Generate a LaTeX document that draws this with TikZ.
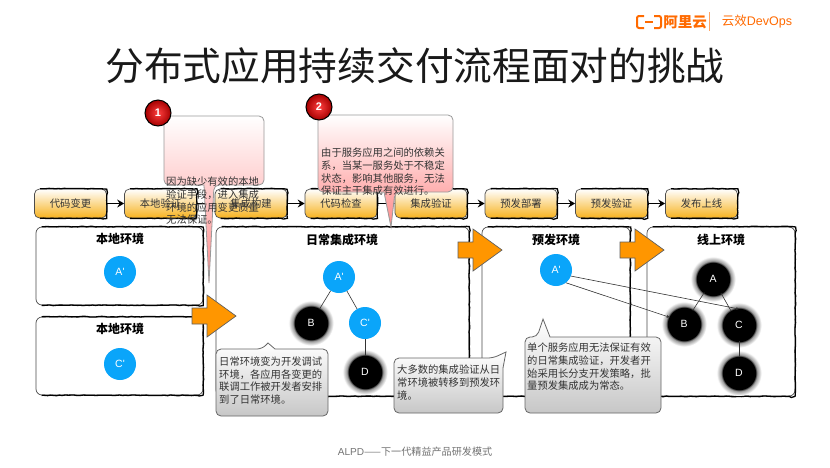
\documentclass[tikz,border=0pt]{standalone}
\usepackage{fontspec}
\setmainfont{Noto Sans CJK SC}
\newfontfamily\latinfont{Liberation Sans}
\usetikzlibrary{arrows.meta,positioning,calc,decorations.pathmorphing}
\definecolor{acc}{HTML}{FF6A00}
\definecolor{gr}{HTML}{333333}
\definecolor{stagebot}{HTML}{F7B21E}
\definecolor{blue}{HTML}{0AA5FA}
\definecolor{orangearrow}{HTML}{FF9600}
\definecolor{redtail}{HTML}{FF8A8A}
\newcommand{\smalltxt}{\fontsize{10.3}{12.6}\selectfont}
\pgfdeclareradialshading{svcglow}{\pgfpointorigin}{color(0bp)=(black); color(18.4bp)=(black); color(19bp)=(black!45); color(24.5bp)=(white); color(50bp)=(white)}
\tikzset{
  sketchline/.style={draw=black,line width=1.3pt,decorate,decoration={random steps,segment length=3pt,amplitude=.35pt}},
  stagebox/.style={rectangle,rounded corners=5pt,draw=black!70,line width=.7pt,top color=white,bottom color=stagebot,
    minimum width=72pt,minimum height=29pt,inner sep=0pt,text=gr,font=\smalltxt},
  envbox/.style={draw=black!70,line width=.7pt,fill=white,rounded corners=6pt},
  envtitle/.style={font=\fontsize{12}{14}\selectfont\bfseries},
  svc/.style={circle,inner sep=0pt,text=white,font=\latinfont\fontsize{10.5}{12}\selectfont},
  svcnew/.style={svc,minimum size=32pt,fill=blue},
  svcold/.style={svc,minimum size=46pt,outer sep=-7pt,shading=svcglow},
  flow/.style={-{Stealth[length=7pt,width=8pt,inset=2.5pt]},line width=1.1pt},
  link/.style={line width=.6pt,draw=gr},
  thinarrow/.style={-{Stealth[length=3pt,width=3pt]},line width=.6pt,draw=gr},
  bigarrow/.style={draw=gray!75!black,line width=.7pt,fill=orangearrow},
  tipred/.style={draw=gray!80,line width=.8pt,top color=white,bottom color=redtail,rounded corners=5pt},
  tipgray/.style={draw=gray!80!black,line width=.8pt,top color=white,bottom color=black!22,rounded corners=5pt},
  tiptext/.style={anchor=north west,inner sep=0pt,align=left,text=gr,font=\smalltxt},
  badge/.style={circle,draw=black,line width=1pt,minimum size=26pt,inner sep=0pt,
    inner color=red!75!white,outer color=red!65!black,text=white,font=\latinfont\bfseries\fontsize{11}{12}\selectfont},
}
\begin{document}
\begin{tikzpicture}[x=1pt,y=-1pt]
  \useasboundingbox (0,0) rectangle (830,467);
  \fill[white] (0,0) rectangle (830,467);
  % logo
  \draw[acc,line width=2pt,rounded corners=2pt] (644,16) -- (637,16) -- (637,28) -- (644,28);
  \draw[acc,line width=2pt,rounded corners=2pt] (654,16) -- (661,16) -- (661,28) -- (654,28);
  \draw[acc,line width=1.4pt] (645,22) -- (653,22);
  \node[acc,font=\fontsize{14.5}{16}\selectfont\bfseries] (aliyun) at (685,22) {阿里云};
  \draw[acc!60,line width=.6pt] (709,12) -- (709,31);
  \node[acc,font=\fontsize{12.5}{14}\selectfont] (devops) at (757,22) {云效\latinfont DevOps};
  % title
  \node[font=\fontsize{38.7}{44}\selectfont,text=black!90] (title) at (415,66) {分布式应用持续交付流程面对的挑战};
  % environments
  \node[envbox,minimum width=167pt,minimum height=78pt] (localA) at (119.5,266) {};
  \node[envbox,minimum width=167pt,minimum height=78pt] (localC) at (119.5,356) {};
  \node[envbox,minimum width=253pt,minimum height=169pt] (daily) at (342.5,311.5) {};
  \node[envbox,minimum width=148pt,minimum height=169pt] (pre) at (556,311.5) {};
  \node[envbox,minimum width=148pt,minimum height=169pt] (online) at (721,311.5) {};
  \foreach \x/\y/\l in {120/239/本地环境,120/329/本地环境,342/240/日常集成环境,556/240/预发环境,721/240/线上环境} {
    \node[envtitle] at (\x,\y) {\l};
  }
  % stages
  \foreach \i/\x/\l in {1/70.5/代码变更,2/160.5/本地验证,3/251/集成构建,4/341/代码检查,5/431/集成验证,6/521/预发部署,7/611.5/预发验证,8/701.5/发布上线} {
    \node[stagebox] (s\i) at (\x,203.5) {\l};
  }
  \foreach \a/\b in {s1/s2,s2/s3,s3/s4,s4/s5,s5/s6,s6/s7,s7/s8} {
    \draw[flow] (\a) -- (\b);
  }
  % heavy pen strokes on top, right and bottom
  \foreach \n in {localA,localC,daily,pre,online,s1,s2,s3,s4,s5,s6,s7,s8} {
    \draw[sketchline] ($(\n.north west)+(6,0)$) -- ($(\n.north east)+(-6,0)$)
      .. controls (\n.north east) .. ($(\n.north east)+(0,6)$) -- ($(\n.south east)+(0,-6)$)
      .. controls (\n.south east) .. ($(\n.south east)+(-6,0)$) -- ($(\n.south west)+(6,0)$);
  }
  % services
  \node[svcnew] (a1) at (120,272) {A'};
  \node[svcnew] (c1) at (120,364) {C'};
  \node[svcnew] (a2) at (339,277) {A'};
  \node[svcold] (b2) at (311,323) {B};
  \node[svcnew] (c2) at (365,323) {C'};
  \node[svcold] (d2) at (365,372) {D};
  \draw[link] (a2) -- (b2);
  \draw[link] (a2) -- (c2);
  \draw[link] (c2) -- (d2);
  \node[svcnew] (a3) at (556,270) {A'};
  \node[svcold] (a4) at (713,279) {A};
  \node[svcold] (b4) at (684,324) {B};
  \node[svcold] (c4) at (739,325) {C};
  \node[svcold] (d4) at (739,373) {D};
  \draw[link] (a4) -- (b4);
  \draw[link] (a4) -- (c4);
  \draw[link] (c4) -- (d4);
  \draw[thinarrow] (a3.-52) -- (b4.155);
  \draw[thinarrow] (a3.-22) -- (c4.north);
  % moves between environments
  \foreach \x in {192,458,620} {
    \pgfmathsetmacro{\yc}{\x==192 ? 316 : 250}
    \draw[bigarrow] (\x,\yc-8) -- (\x+15,\yc-8) -- (\x+15,\yc-21) -- (\x+44,\yc) -- (\x+15,\yc+21) -- (\x+15,\yc+8) -- (\x,\yc+8) -- cycle;
  }
  % callouts
  \draw[tipred] (164,116) -- (264,116) -- (264,185) -- (214,185) [sharp corners] -- (209,283) -- (204,185) [rounded corners=5pt] -- (164,185) -- cycle;
  \draw[tipred] (318,115) -- (453,115) -- (453,192) -- (395,192) [sharp corners] -- (391,227) -- (384,192) [rounded corners=5pt] -- (318,192) -- cycle;
  \node[tiptext] (t1) at (166,177) {因为缺少有效的本地\\验证手段，进入集成\\环境的应用变更质量\\无法保证。};
  \node[tiptext] (t2) at (321,148) {由于服务应用之间的依赖关\\系，当某一服务处于不稳定\\状态，影响其他服务，无法\\保证主干集成有效进行。};
  \node[badge] (n1) at (158,113) {1};
  \node[badge] (n2) at (319,107) {2};
  \draw[tipgray] (216,349) -- (262,349) [sharp corners] -- (268,343) -- (275,349) [rounded corners=5pt] -- (328,349) -- (328,416) -- (216,416) -- cycle;
  \draw[tipgray] (394,358) -- (493,358) [sharp corners] -- (506,352) -- (503,368) [rounded corners=5pt] -- (503,413) -- (394,413) -- cycle;
  \draw[tipgray] (525,337) -- (537,337) [sharp corners] -- (543,319) -- (550,337) [rounded corners=5pt] -- (661,337) -- (661,413) -- (525,413) -- cycle;
  \node[tiptext] (t3) at (219,356.5) {日常环境变为开发调试\\环境，各应用各变更的\\联调工作被开发者安排\\到了日常环境。};
  \node[tiptext] (t4) at (397,365) {大多数的集成验证从日\\常环境被转移到预发环\\境。};
  \node[tiptext] (t5) at (527,343) {单个服务应用无法保证有效\\的日常集成验证，开发者开\\始采用长分支开发策略，批\\量预发集成成为常态。};
  % footer
  \node[text=gray!90!black,font=\fontsize{10.1}{11}\selectfont] (foot) at (415,452) {\latinfont ALPD\rmfamily——下一代精益产品研发模式};
\end{tikzpicture}
\end{document}
